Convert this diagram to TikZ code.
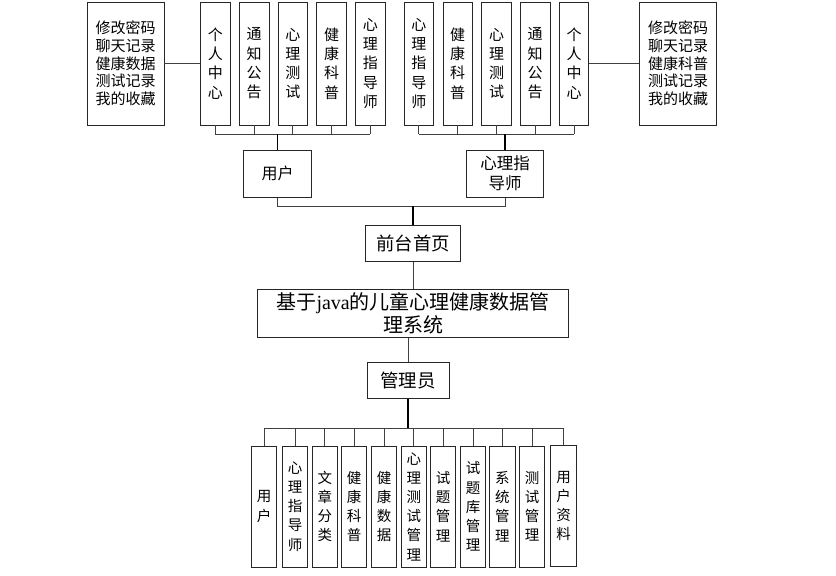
\documentclass[tikz,border=0pt]{standalone}
\usepackage{fontspec}
\setmainfont{Noto Sans CJK SC}
\newfontfamily\latfont{Liberation Serif}
\begin{document}
\begin{tikzpicture}[x=1pt,y=-1pt,
  box/.style={draw=black!85,line width=0.9pt,inner sep=0pt,align=center,fill=white},
  vt/.style={box,minimum width=29.5pt,minimum height=123pt,font=\fontsize{15}{19.3}\selectfont},
  bt/.style={box,minimum width=25.3pt,minimum height=121pt,font=\fontsize{14.5}{19.2}\selectfont},
  conn/.style={draw=black!75,line width=0.8pt},
  midconn/.style={draw=black,line width=1.2pt},
  thickconn/.style={draw=black,line width=2pt}]
\useasboundingbox (0,0) rectangle (836,576);
% top left group
\node[box,minimum width=77pt,minimum height=123pt,font=\fontsize{15}{17.7}\selectfont] (L) at (125.5,63.5) {修改密码\\聊天记录\\健康数据\\测试记录\\我的收藏};
\node[vt] (a1) at (215.4,63.5) {个\\人\\中\\心};
\node[vt] (a2) at (254.2,63.5) {通\\知\\公\\告};
\node[vt] (a3) at (292.8,63.5) {心\\理\\测\\试};
\node[vt] (a4) at (331.5,63.5) {健\\康\\科\\普};
\node[vt] (a5) at (370.3,63.5) {心\\理\\指\\导\\师};
% top right group
\node[vt] (b1) at (418.8,63.5) {心\\理\\指\\导\\师};
\node[vt] (b2) at (457.7,63.5) {健\\康\\科\\普};
\node[vt] (b3) at (496.5,63.5) {心\\理\\测\\试};
\node[vt] (b4) at (535.2,63.5) {通\\知\\公\\告};
\node[vt] (b5) at (574.0,63.5) {个\\人\\中\\心};
\node[box,minimum width=77pt,minimum height=123pt,font=\fontsize{15}{17.7}\selectfont] (R) at (678.2,63.5) {修改密码\\聊天记录\\健康科普\\测试记录\\我的收藏};
% middle
\node[box,minimum width=67.6pt,minimum height=47.3pt,font=\fontsize{16}{20}\selectfont] (U) at (277.5,173.6) {用户};
\node[box,minimum width=76.6pt,minimum height=47.3pt,font=\fontsize{16.5}{20}\selectfont] (T) at (505,173.6) {心理指\\导师};
\node[box,minimum width=94.6pt,minimum height=36pt,font=\fontsize{18.4}{22}\selectfont] (F) at (413,243.3) {前台首页};
\node[box,minimum width=311pt,minimum height=47.7pt,font=\fontsize{20}{23.3}\selectfont] (S) at (413.2,313.2) {基于{\latfont java}的儿童心理健康数据管\\理系统};
\node[box,minimum width=82pt,minimum height=36.4pt,font=\fontsize{18.4}{22}\selectfont] (M) at (408,380.5) {管理员};
% bottom
\node[bt] (c1) at (264.2,506.5) {用\\户};
\node[bt] (c2) at (295.0,506.5) {心\\理\\指\\导\\师};
\node[bt] (c3) at (324.8,506.5) {文\\章\\分\\类};
\node[bt] (c4) at (354.2,506.5) {健\\康\\科\\普};
\node[bt] (c5) at (384.0,506.5) {健\\康\\数\\据};
\node[bt] (c6) at (413.8,506.5) {心\\理\\测\\试\\管\\理};
\node[bt] (c7) at (443.2,506.5) {试\\题\\管\\理};
\node[bt] (c8) at (473.0,506.5) {试\\题\\库\\管\\理};
\node[bt] (c9) at (502.3,506.5) {系\\统\\管\\理};
\node[bt] (c10) at (532.0,506.5) {测\\试\\管\\理};
\node[bt] (c11) at (563.5,506.0) {用\\户\\资\\料};
% connectors top
\draw[conn] (L.east) -- (a1.west);
\draw[conn] (b5.east) -- (R.west);
\coordinate (tbL) at (277.5,134);
\coordinate (tbR) at (505,134);
\foreach \n in {a1,a2,a3,a4,a5} \draw[conn] (\n.south) -- (\n.south |- tbL);
\foreach \n in {b1,b2,b3,b4,b5} \draw[conn] (\n.south) -- (\n.south |- tbR);
\draw[conn] (a1.south |- tbL) -- (a5.south |- tbL);
\draw[conn] (b1.south |- tbR) -- (b5.south |- tbR);
\draw[midconn] (tbL) -- (U.north);
\draw[midconn] (tbR) -- (T.north);
\coordinate (j) at (413,206);
\draw[conn] (U.south) -- (U.south |- j) -- (T.south |- j) -- (T.south);
\draw[midconn] (j) -- (F.north);
\draw[conn] (F.south) -- (F.south |- S.north);
\draw[conn] (M.north) -- (M.north |- S.south);
% bottom connectors
\coordinate (bb) at (408,428.3);
\draw[thickconn] (M.south) -- (bb);
\draw[conn] (c1.north |- bb) -- (c11.north |- bb);
\foreach \n in {c1,c2,c3,c4,c5,c6,c7,c8,c9,c10,c11} \draw[conn] (\n.north |- bb) -- (\n.north);
\end{tikzpicture}
\end{document}
